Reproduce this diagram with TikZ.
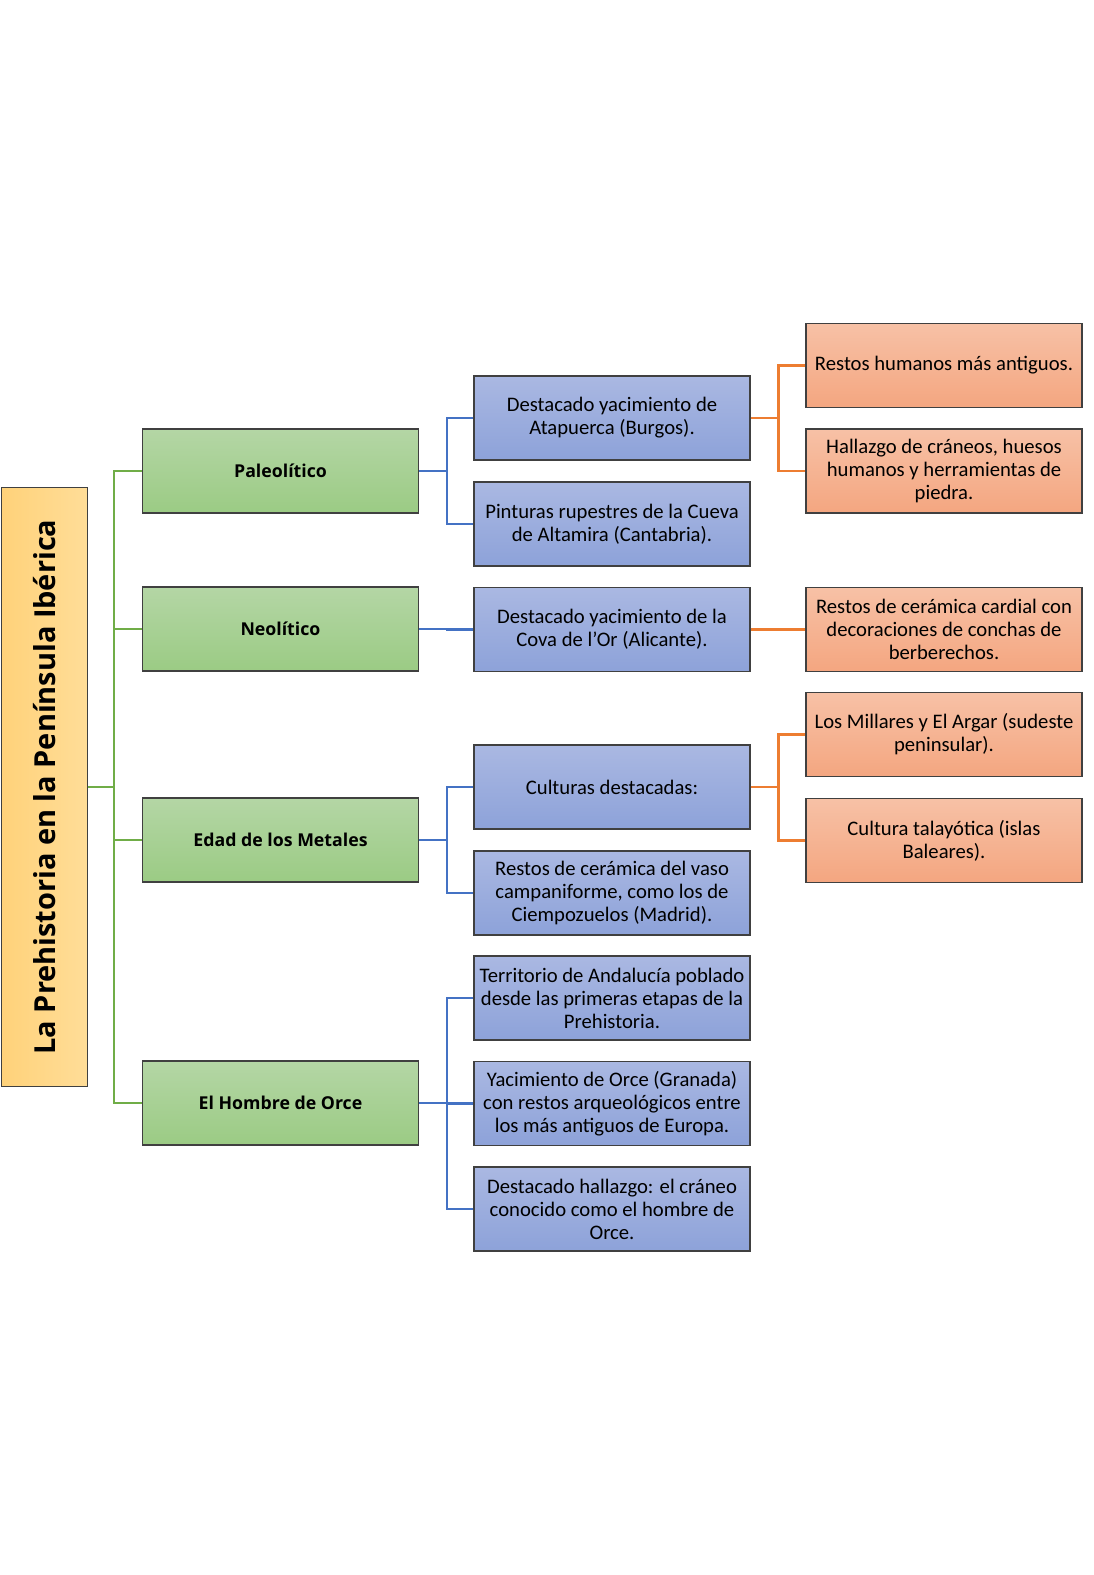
\documentclass[tikz,border=0pt]{standalone}
\usepackage{fontspec}
\setmainfont{Carlito}
\newfontfamily\headfont{Open Sans}
\usetikzlibrary{positioning}

\definecolor{boxline}{HTML}{404040}
\definecolor{titletop}{HTML}{FFDD98}
\definecolor{titlebot}{HTML}{FFD27A}
\definecolor{greentop}{HTML}{B4D6A5}
\definecolor{greenbot}{HTML}{9BCB84}
\definecolor{bluetop}{HTML}{AAB8E2}
\definecolor{bluebot}{HTML}{8DA2D9}
\definecolor{orangetop}{HTML}{F7C1A6}
\definecolor{orangebot}{HTML}{F4A680}
\definecolor{gline}{HTML}{70AD47}
\definecolor{bline}{HTML}{4472C4}
\definecolor{oline}{HTML}{ED7D31}

\tikzset{
  box/.style={draw=boxline, line width=0.8pt, minimum width=207pt, minimum height=63pt,
    inner sep=1pt, align=center, font=\fontsize{15.5}{17.3}\selectfont},
  stagebox/.style={box, top color=greentop, bottom color=greenbot,
    font=\headfont\bfseries\fontsize{13.3}{16}\selectfont},
  factbox/.style={box, top color=bluetop, bottom color=bluebot},
  detailbox/.style={box, top color=orangetop, bottom color=orangebot},
  link/.style={line width=1.6pt}
}

\begin{document}
\begin{tikzpicture}[x=0.75pt, y=-0.75pt]
  \useasboundingbox[fill=white] (0,0) rectangle (1094,1575);

  % title
  \node[draw=boxline, line width=0.8pt, left color=titlebot, right color=titletop,
        rotate=90, minimum width=449pt, minimum height=64pt,
        font=\headfont\bfseries\fontsize{21.7}{25}\selectfont] (title) at (44.5,787) {La Prehistoria en la Península Ibérica};

  % stages
  \node[stagebox] (paleo) at (280.5,471) {Paleolítico};
  \node[stagebox] (neo) at (280.5,629) {Neolítico};
  \node[stagebox] (metal) at (280.5,840) {Edad de los Metales};
  \node[stagebox] (orce) at (280.5,1103) {El Hombre de Orce};

  % facts
  \node[factbox] (atap) at (612,418) {Destacado yacimiento de\\Atapuerca (Burgos).};
  \node[factbox] (altam) at (612,524) {Pinturas rupestres de la Cueva\\de Altamira (Cantabria).};
  \node[factbox] (cova) at (612,629.5) {Destacado yacimiento de la\\Cova de l'Or (Alicante).};
  \node[factbox] (cult) at (612,787) {Culturas destacadas:};
  \node[factbox] (vaso) at (612,893) {Restos de cerámica del vaso\\campaniforme, como los de\\Ciempozuelos (Madrid).};
  \node[factbox] (andal) at (612,998) {Territorio de Andalucía poblado\\desde las primeras etapas de la\\Prehistoria.};
  \node[factbox] (yacim) at (612,1103.5) {Yacimiento de Orce (Granada)\\con restos arqueológicos entre\\los más antiguos de Europa.};
  \node[factbox] (craneo) at (612,1209) {Destacado hallazgo: el cráneo\\conocido como el hombre de\\Orce.};

  % details
  \node[detailbox] (restos) at (944,365.5) {Restos humanos más antiguos.};
  \node[detailbox] (hallaz) at (944,471) {Hallazgo de cráneos, huesos\\humanos y herramientas de\\piedra.};
  \node[detailbox] (cardial) at (944,629.5) {Restos de cerámica cardial con\\decoraciones de conchas de\\berberechos.};
  \node[detailbox] (millar) at (944,734.5) {Los Millares y El Argar (sudeste\\peninsular).};
  \node[detailbox] (talay) at (944,840.5) {Cultura talayótica (islas\\Baleares).};

  % connectors
  \coordinate (groot) at (114,787);
  \draw[link, gline] (title.south) -- (groot);
  \foreach \s in {paleo,neo,metal,orce}
    \draw[link, gline] (groot) |- (\s.west);

  \foreach \p/\kids in {paleo/{atap,altam}, neo/{cova}, metal/{cult,vaso}, orce/{andal,yacim,craneo}} {
    \coordinate (\p-fork) at ([xshift=21pt]\p.east);
    \draw[link, bline] (\p.east) -- (\p-fork);
    \foreach \k in \kids
      \draw[link, bline] (\p-fork) |- (\k.west);
  }

  \foreach \p/\kids in {atap/{restos,hallaz}, cova/{cardial}, cult/{millar,talay}} {
    \coordinate (\p-fork) at ([xshift=21pt]\p.east);
    \draw[link, oline] (\p.east) -- (\p-fork);
    \foreach \k in \kids
      \draw[link, oline] (\p-fork) |- (\k.west);
  }
\end{tikzpicture}
\end{document}
